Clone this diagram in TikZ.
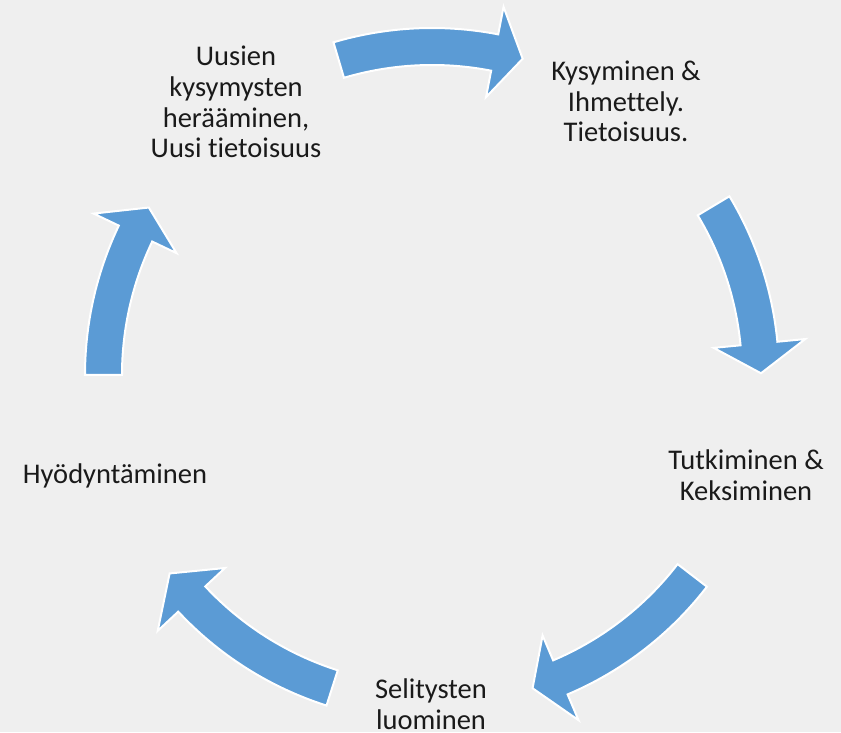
\documentclass[tikz,border=0pt]{standalone}
\usepackage{fontspec}
\setmainfont[Ligatures=NoCommon]{Carlito}
\definecolor{bg}{HTML}{EFEFEF}
\definecolor{arr}{HTML}{5B9BD5}
\definecolor{txt}{HTML}{1A1A1A}
\tikzset{
  lbl/.style={align=center, text=txt, font=\fontsize{28.5}{30.7}\selectfont, inner sep=0pt, anchor=base},
  cyc/.style={fill=arr, draw=white, line width=2pt, line join=miter}
}
\newcommand{\cycarrow}[3]{% tail angle, head base angle, tip angle
  \path[cyc] (#1:347pt) arc[start angle=#1, end angle=#2, radius=347pt]
    -- (#2:375pt) -- (#3:329pt) -- (#2:283pt) -- (#2:310pt)
    arc[start angle=#2, end angle=#1, radius=310pt] -- cycle;
}
\begin{document}
\begin{tikzpicture}
  \fill[bg] (0,0) rectangle (841pt,732pt);
  \useasboundingbox (0,0) rectangle (841pt,732pt);
  \begin{scope}[shift={(432pt,357pt)}]
    \cycarrow{106.5}{79}{74}
    \cycarrow{31}{5.5}{0.3}
    \cycarrow{-37.6}{-67}{-72.2}
    \cycarrow{-107.7}{-137}{-142.9}
    \cycarrow{180}{154.5}{149.4}
  \end{scope}
  % anchor=base is the baseline of the last line
  \node[lbl] (uusi) at (236pt,574pt) {Uusien\\kysymysten\\herääminen,\\Uusi tietoisuus};
  \node[lbl] (kysy) at (626pt,590pt) {Kysyminen \&\\Ihmettely.\\Tietoisuus.};
  \node[lbl] (tutk) at (746pt,232pt) {Tutkiminen \&\\Keksiminen};
  \node[lbl] (seli) at (431pt,3pt) {Selitysten\\luominen};
  \node[lbl] (hyod) at (115pt,249pt) {Hyödyntäminen};
\end{tikzpicture}
\end{document}
